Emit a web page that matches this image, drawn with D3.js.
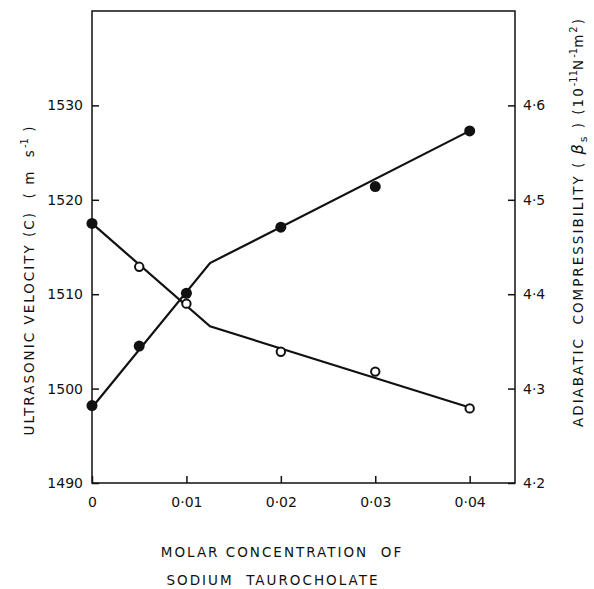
<!DOCTYPE html>
<html>
<head>
<meta charset="utf-8">
<script src="https://cdn.jsdelivr.net/npm/d3@7.9.0/dist/d3.min.js"></script>
<style>
  body { margin: 0; background: #fff; }
  svg text { font-family: "DejaVu Sans", sans-serif; fill: #111; }
  .tick text { font-size: 14px; }
  .title { font-size: 13.5px; letter-spacing: 2px; white-space: pre; }
</style>
</head>
<body>
<svg id="chart" width="594" height="589"></svg>
<script>
// molar concentration of sodium taurocholate
const conc = [0, 0.005, 0.01, 0.02, 0.03, 0.04];
// ultrasonic velocity (m/s), filled dots
const velocity = [1498.2, 1504.5, 1510.1, 1517.1, 1521.4, 1527.3];
// adiabatic compressibility (1e-11 N^-1 m^2), open dots
const compress = [4.475, 4.429, 4.39, 4.339, 4.318, 4.279];
// fitted lines with a break near the cmc
const velocityFit = [[0, 1498.0], [0.0125, 1513.3], [0.04, 1527.3]];
const compressFit = [[0, 4.475], [0.0125, 4.366], [0.04, 4.28]];
// tick values
const xTicks = [0, 0.01, 0.02, 0.03, 0.04];
const yTicks = [1490, 1500, 1510, 1520, 1530];
const y2Ticks = [4.2, 4.3, 4.4, 4.5, 4.6];

const svg = d3.select('#chart');
const plotL = 92, plotR = 515, plotT = 11, plotB = 483;

const x = d3.scaleLinear().domain([0, 0.0448]).range([plotL, plotR]);
const y = d3.scaleLinear().domain([1490, 1540]).range([plotB, plotT]);
const y2 = d3.scaleLinear().domain([4.2, 4.7]).range([plotB, plotT]);

const dot = (v) => (v === 0 ? '0' : d3.format('.2f')(v).replace('.', '·'));

// frame
svg.append('rect')
    .attr('x', plotL).attr('y', plotT)
    .attr('width', plotR - plotL).attr('height', plotB - plotT)
    .attr('fill', 'none').attr('stroke', '#111').attr('stroke-width', 1.5);

// axes, ticks pointing inward
const xAxis = svg.append('g')
    .attr('transform', `translate(0,${plotB})`)
    .call(d3.axisBottom(x).tickValues(xTicks).tickFormat(dot)
        .tickSizeInner(-7).tickSizeOuter(0).tickPadding(14));

const yAxis = svg.append('g')
    .attr('transform', `translate(${plotL},0)`)
    .call(d3.axisLeft(y).tickValues(yTicks).tickFormat(d3.format('d'))
        .tickSizeInner(-7).tickSizeOuter(0).tickPadding(9));

const y2Axis = svg.append('g')
    .attr('transform', `translate(${plotR},0)`)
    .call(d3.axisRight(y2).tickValues(y2Ticks).tickFormat((d) => d3.format('.1f')(d).replace('.', '·'))
        .tickSizeInner(-7).tickSizeOuter(0).tickPadding(8));

[xAxis, yAxis, y2Axis].forEach((g) => {
    g.select('.domain').remove();
    g.selectAll('line').attr('stroke', '#111').attr('stroke-width', 1.5);
    g.selectAll('text').attr('fill', '#111');
});

// fitted lines
const line = d3.line().x((d) => x(d[0])).y((d) => y(d[1]));
const line2 = d3.line().x((d) => x(d[0])).y((d) => y2(d[1]));

svg.append('path').attr('d', line(velocityFit))
    .attr('fill', 'none').attr('stroke', '#111').attr('stroke-width', 2.2);
svg.append('path').attr('d', line2(compressFit))
    .attr('fill', 'none').attr('stroke', '#111').attr('stroke-width', 2.2);

// velocity points (filled)
svg.append('g').selectAll('circle')
    .data(conc.map((c, i) => [c, velocity[i]]))
    .join('circle')
    .attr('cx', (d) => x(d[0])).attr('cy', (d) => y(d[1]))
    .attr('r', 5.5).attr('fill', '#111');

// compressibility points (open, first one drawn solid)
svg.append('g').selectAll('circle')
    .data(conc.map((c, i) => [c, compress[i]]))
    .join('circle')
    .attr('cx', (d) => x(d[0])).attr('cy', (d) => y2(d[1]))
    .attr('r', (_, i) => (i === 0 ? 5.5 : 4.2))
    .attr('fill', (_, i) => (i === 0 ? '#111' : '#fff'))
    .attr('stroke', '#111').attr('stroke-width', (_, i) => (i === 0 ? 0 : 2));

// axis titles
const leftTitle = svg.append('text').attr('class', 'title')
    .attr('transform', 'translate(34,280) rotate(-90)')
    .attr('text-anchor', 'middle')
    .attr('letter-spacing', 2.6);
leftTitle.append('tspan').text('ULTRASONIC VELOCITY (C)  ( m  s');
leftTitle.append('tspan').attr('dy', -6).attr('font-size', 10).attr('letter-spacing', 0).text('-1');
leftTitle.append('tspan').attr('dy', 6).text(' )');

const rightTitle = svg.append('text').attr('class', 'title')
    .attr('transform', 'translate(583,222) rotate(-90)')
    .attr('text-anchor', 'middle');
rightTitle.append('tspan').text('ADIABATIC  COMPRESSIBILITY ( ');
rightTitle.append('tspan').attr('font-style', 'italic').attr('font-size', 16).text('β');
rightTitle.append('tspan').attr('dy', 4).attr('font-size', 11).text('s');
rightTitle.append('tspan').attr('dy', -4).text(' ) (10');
rightTitle.append('tspan').attr('dy', -6).attr('font-size', 10).attr('letter-spacing', 0).text('-11');
rightTitle.append('tspan').attr('dy', 6).text('N');
rightTitle.append('tspan').attr('dy', -6).attr('font-size', 10).attr('letter-spacing', 0).text('-1');
rightTitle.append('tspan').attr('dy', 6).text('m');
rightTitle.append('tspan').attr('dy', -6).attr('font-size', 10).text('2');
rightTitle.append('tspan').attr('dy', 6).text(')');

svg.append('text').attr('class', 'title')
    .attr('x', 282).attr('y', 557).attr('text-anchor', 'middle')
    .attr('letter-spacing', 2.6)
    .text('MOLAR CONCENTRATION  OF');
svg.append('text').attr('class', 'title')
    .attr('x', 273).attr('y', 585).attr('text-anchor', 'middle')
    .attr('letter-spacing', 2.6)
    .text('SODIUM  TAUROCHOLATE');
</script>
</body>
</html>
